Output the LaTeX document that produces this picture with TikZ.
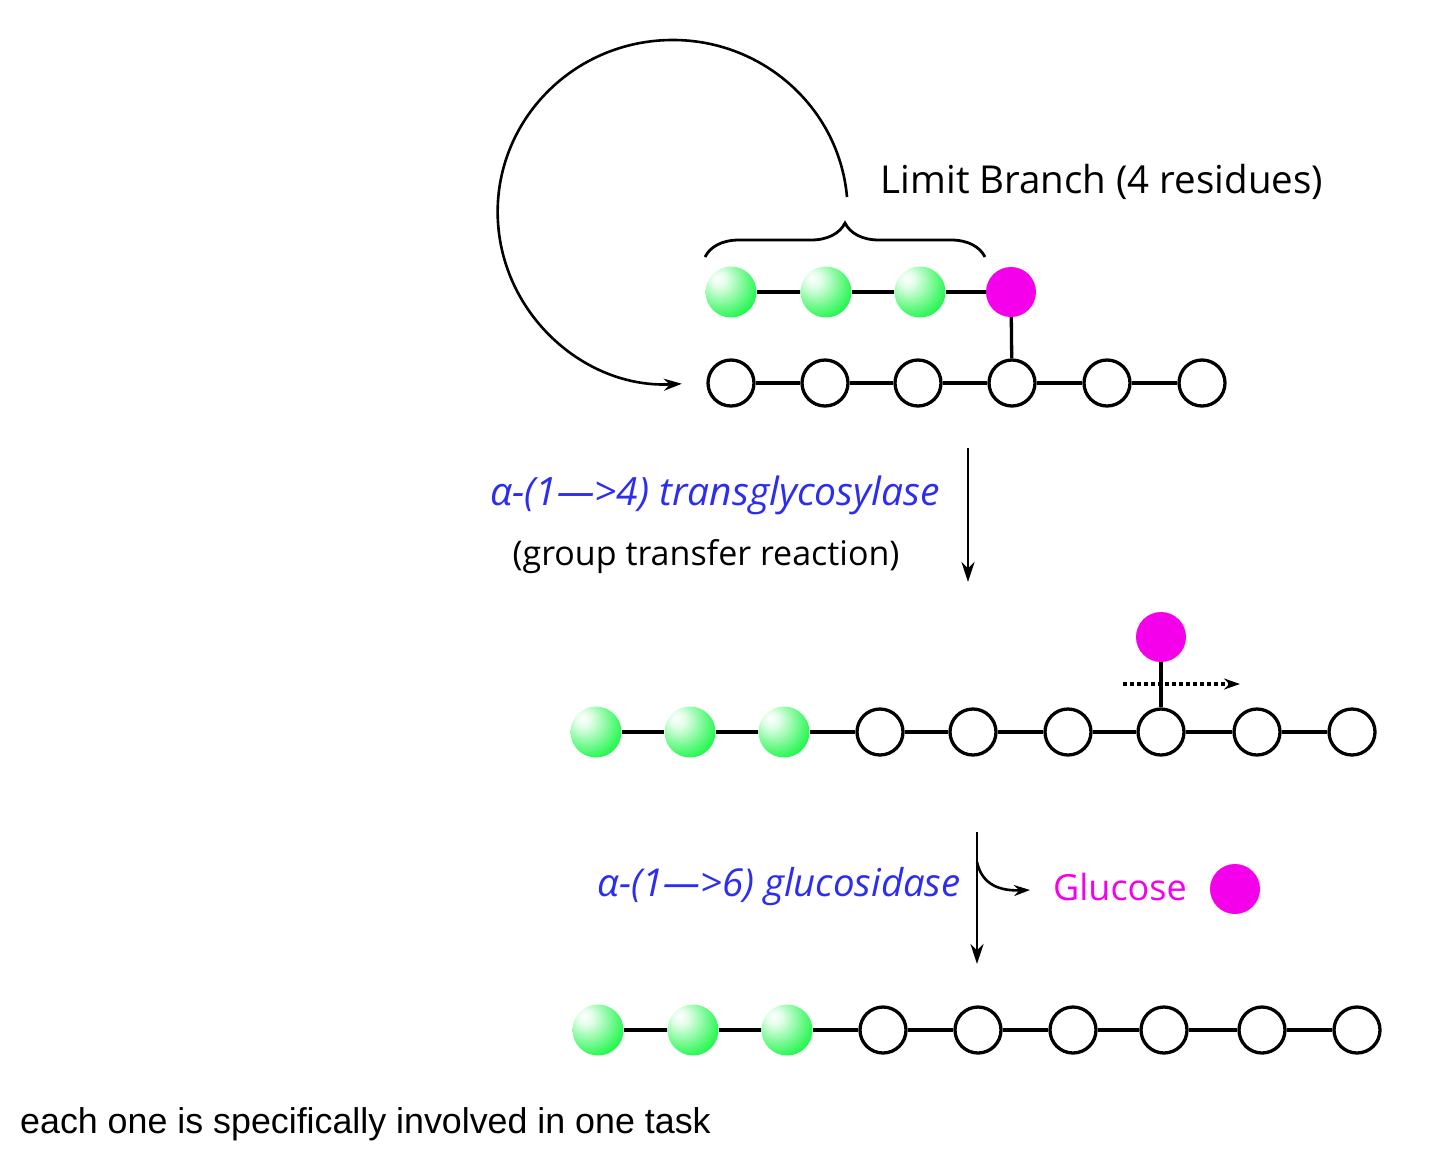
\documentclass[tikz,border=0pt]{standalone}
\usepackage{fontspec}
\setmainfont{Open Sans}
\newfontfamily\arialfont{Liberation Sans}
\usetikzlibrary{arrows.meta,decorations.pathreplacing}
\definecolor{gball}{RGB}{0,245,50}
\definecolor{mag}{RGB}{245,0,235}
\definecolor{enzblue}{RGB}{45,45,240}
\pgfdeclareradialshading{greenball}{\pgfpoint{-14bp}{14bp}}{color(0bp)=(white); color(8bp)=(white!88!gball); color(26bp)=(gball!62!white); color(40bp)=(gball); color(80bp)=(gball)}
\tikzset{
  openres/.style={circle, draw=black, line width=3.3pt, minimum size=46pt, inner sep=0pt, fill=white},
  gres/.style={circle, shading=greenball, minimum size=51pt, inner sep=0pt},
  mres/.style={circle, fill=mag, minimum size=50pt, inner sep=0pt},
  bond/.style={line width=3.3pt, black},
  rxn/.style={line width=2.8pt, -{Stealth[length=20pt,width=13pt]}},
  comic/.style={font=\fontsize{38.5}{42}\selectfont},
  enz/.style={font=\fontsize{39}{42}\selectfont\itshape, text=enzblue},
}
\begin{document}
\begin{tikzpicture}[x=1pt,y=-1pt]
\useasboundingbox (0,0) rectangle (1440,1160);
% ---- row 1 (branch) ----
\node[gres] (g1) at (731,292) {};
\node[gres] (g2) at (826,292) {};
\node[gres] (g3) at (920,292) {};
\node[mres] (m1) at (1011,292) {};
% ---- row 2 ----
\foreach \i/\x in {1/731,2/825,3/918,4/1012,5/1107,6/1202}
  \node[openres] (a\i) at (\x,383) {};
\draw[bond] (g1) -- (g2);
\draw[bond] (g2) -- (g3);
\draw[bond] (g3) -- (m1);
\draw[bond] (m1) -- (a4);
\foreach \i/\j in {1/2,2/3,3/4,4/5,5/6} \draw[bond] (a\i) -- (a\j);
% brace
\coordinate (bl) at (705,257);
\coordinate (br) at (985,257);
\draw[line width=2.8pt, decorate, decoration={brace, amplitude=34pt}] (bl) -- (br);
% big arc
\coordinate (arcS) at (847,197);
\draw[line width=2.6pt, -{Stealth[length=18pt,width=12pt]}] (arcS) arc[start angle=-5, end angle=-273, x radius=175, y radius=172];
\node[comic] (lim) at (1102,182) {Limit Branch (4 residues)};
% ---- reaction 1 ----
\coordinate (r1s) at (968,448);
\coordinate (r1e) at (968,582);
\draw[rxn] (r1s) -- (r1e);
\node[enz] (e1) at (715,495) {α-(1—>4) transglycosylase};
\node[font=\fontsize{34}{38}\selectfont] (gt) at (706,557) {(group transfer reaction)};
% ---- row 3 ----
\foreach \i/\x in {1/596,2/690,3/784}
  \node[gres] (b\i) at (\x,732) {};
\foreach \i/\x in {4/880,5/973,6/1068,7/1161,8/1257,9/1352}
  \node[openres] (b\i) at (\x,732) {};
\node[mres] (m2) at (1161,637) {};
\foreach \i/\j in {1/2,2/3,3/4,4/5,5/6,6/7,7/8,8/9} \draw[bond] (b\i) -- (b\j);
\draw[bond] (m2) -- (b7);
\coordinate (ds) at (1123,684);
\coordinate (de) at (1240,684);
\draw[line width=3.2pt, dash pattern=on 4pt off 3pt, -{Stealth[length=16pt,width=11pt]}] (ds) -- (de);
% ---- reaction 2 ----
\coordinate (r2s) at (977,832);
\coordinate (r2e) at (977,964);
\coordinate (r2b) at (977,862);
\coordinate (r2g) at (1030,890);
\draw[rxn] (r2s) -- (r2e);
\draw[line width=2.6pt, -{Stealth[length=16pt,width=11pt]}] (r2b) .. controls (982,885) and (1000,891) .. (r2g);
\node[enz, font=\fontsize{38.4}{42}\selectfont\itshape] (e2) at (779,887) {α-(1—>6) glucosidase};
\node[font=\fontsize{36}{40}\selectfont, text=mag] (glc) at (1120,887) {Glucose};
\node[mres] (m3) at (1235,889) {};
% ---- row 4 ----
\foreach \i/\x in {1/598,2/693,3/787}
  \node[gres] (c\i) at (\x,1030) {};
\foreach \i/\x in {4/883,5/978,6/1073,7/1164,8/1262,9/1357}
  \node[openres] (c\i) at (\x,1030) {};
\foreach \i/\j in {1/2,2/3,3/4,4/5,5/6,6/7,7/8,8/9} \draw[bond] (c\i) -- (c\j);
% ---- caption ----
\node[anchor=west, inner sep=0pt, font=\arialfont\fontsize{35.8}{40}\selectfont] (cap) at (20,1124) {each one is specifically involved in one task};
\end{tikzpicture}
\end{document}
